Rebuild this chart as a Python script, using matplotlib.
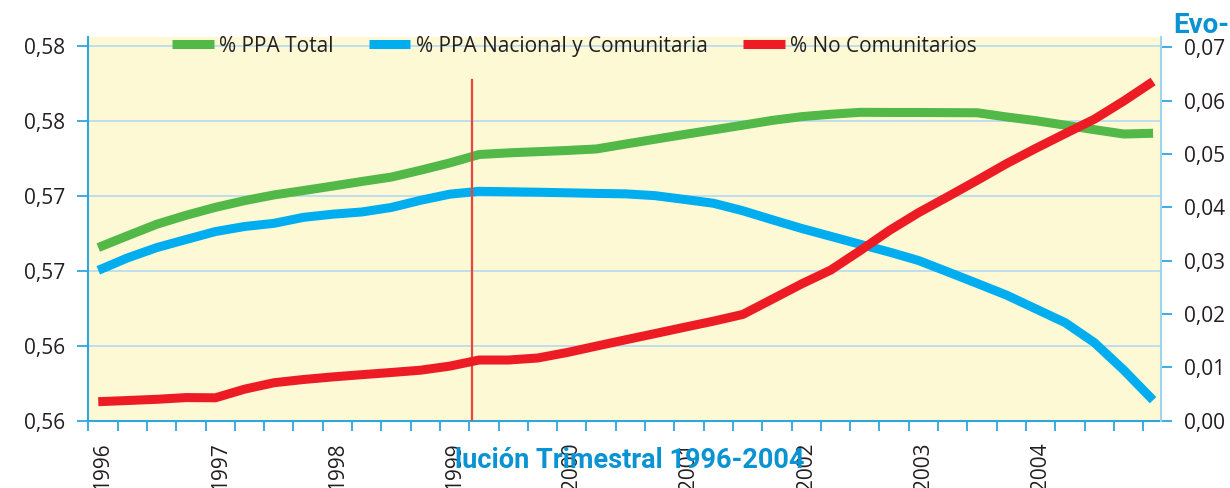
import numpy as np
import matplotlib
matplotlib.use("Agg")
import matplotlib.pyplot as plt

# ---------------- data ----------------
years = ["1996", "1997", "1998", "1999", "2000", "2001", "2002", "2003", "2004"]

ppa_total = [0.56656, 0.56735, 0.56812, 0.56872, 0.56925, 0.56970, 0.57008, 0.57037,
             0.57067, 0.57098, 0.57127, 0.57173, 0.57222, 0.57278, 0.57289, 0.57297,
             0.57305, 0.57315, 0.57348, 0.57380, 0.57412, 0.57443, 0.57474, 0.57506,
             0.57531, 0.57547, 0.57560, 0.57559, 0.57559, 0.57558, 0.57557, 0.57529,
             0.57504, 0.57474, 0.57444, 0.57415, 0.57420]

ppa_nacional = [0.56504, 0.56587, 0.56656, 0.56710, 0.56763, 0.56797, 0.56818, 0.56858,
                0.56879, 0.56894, 0.56924, 0.56972, 0.57013, 0.57032, 0.57029, 0.57026,
                0.57022, 0.57018, 0.57015, 0.57003, 0.56978, 0.56952, 0.56902, 0.56842,
                0.56784, 0.56731, 0.56678, 0.56626, 0.56569, 0.56493, 0.56416, 0.56338,
                0.56246, 0.56154, 0.56020, 0.55837, 0.55636]

no_comunitarios = [0.00353, 0.00375, 0.00398, 0.00430, 0.00426, 0.00589, 0.00709, 0.00769,
                   0.00818, 0.00860, 0.00901, 0.00944, 0.01021, 0.01135, 0.01135, 0.01173,
                   0.01276, 0.01396, 0.01515, 0.01631, 0.01749, 0.01865, 0.01991, 0.02276,
                   0.02562, 0.02824, 0.03187, 0.03566, 0.03902, 0.04202, 0.04508, 0.04821,
                   0.05108, 0.05384, 0.05656, 0.05996, 0.06362]

left_ticks = [0.555, 0.560, 0.565, 0.570, 0.575, 0.580]
left_labels = ["0,56", "0,56", "0,57", "0,57", "0,58", "0,58"]
right_ticks = [0.00, 0.01, 0.02, 0.03, 0.04, 0.05, 0.06, 0.07]
right_labels = ["0,00", "0,01", "0,02", "0,03", "0,04", "0,05", "0,06", "0,07"]

series_labels = ["% PPA Total", "% PPA Nacional y Comunitaria", "% No Comunitarios"]
title_part1 = "Evo-"
title_part2 = "lución Trimestral 1996-2004"

# ---------------- style ----------------
GREEN = "#52B848"
BLUE = "#00AEEF"
RED = "#ED1C24"
AXBLUE = "#2EA6DE"
GRID = "#B4D9F0"
BG = "#FEF9D5"
TXT = "#231F20"
TITLE = "#0A93D2"
FONT = ["Open Sans", "DejaVu Sans"]
TFONT = ["Liberation Sans Narrow", "Roboto", "DejaVu Sans"]

plt.rcParams["font.family"] = FONT

W, H = 1230, 488
fig = plt.figure(figsize=(W / 100, H / 100), dpi=100)
fig.patch.set_facecolor("white")

x0, x1, yb, yt = 88.3, 1161.0, 420.5, 37.0
ax = fig.add_axes([x0 / W, 1 - yb / H, (x1 - x0) / W, (yb - yt) / H])
ax2 = ax.twinx()
ax.set_facecolor(BG)

n = len(ppa_total)
xpos = np.arange(n) + 0.34
ax.set_xlim(0, 36.61)
ax.set_ylim(0.555, 0.580635)
ax2.set_ylim(0.0, 0.07197)

# grid lines at left ticks
for v in left_ticks[1:]:
    ax.axhline(v, color=GRID, lw=1.2, zorder=1)

lw = 6.5
l1, = ax.plot(xpos, ppa_total, color=GREEN, lw=lw, solid_capstyle="butt",
              solid_joinstyle="round", zorder=3)
l2, = ax.plot(xpos, ppa_nacional, color=BLUE, lw=lw, solid_capstyle="butt",
              solid_joinstyle="round", zorder=3)
l3, = ax2.plot(xpos, no_comunitarios, color=RED, lw=lw, solid_capstyle="butt",
               solid_joinstyle="round", zorder=3)

# vertical marker line
ax.axvline(13.08, ymin=0, ymax=0.888, color="#E8453C", lw=1.6, zorder=4)

# axes styling
for a in (ax, ax2):
    a.spines["top"].set_visible(False)
ax.spines["left"].set_color(AXBLUE)
ax.spines["left"].set_linewidth(1.5)
ax.spines["bottom"].set_color(AXBLUE)
ax.spines["bottom"].set_linewidth(1.5)
ax.spines["right"].set_visible(False)
ax2.spines["left"].set_visible(False)
ax2.spines["bottom"].set_visible(False)
ax2.spines["right"].set_color("#9FD4F0")
ax2.spines["right"].set_linewidth(1.5)

ax.set_yticks(left_ticks)
ax.set_yticklabels(left_labels)
ax2.set_yticks(right_ticks)
ax2.set_yticklabels(right_labels)
ax.tick_params(axis="y", direction="out", length=8, width=1.3, color=AXBLUE,
               labelsize=15, labelcolor=TXT, pad=8.5)
ax2.tick_params(axis="y", direction="out", length=8, width=1.3, color=AXBLUE,
                labelsize=15, labelcolor=TXT, pad=8.5)

ax.set_xticks(np.arange(0, 37), minor=True)
ax.set_xticks(np.arange(len(years)) * 4 + 0.5)
ax.set_xticklabels(years, rotation=90)
ax.tick_params(axis="x", which="minor", direction="out", length=7.5, width=1.3,
               color=AXBLUE)
ax.tick_params(axis="x", which="major", length=0, labelsize=15, labelcolor=TXT,
               pad=16)

leg = ax.legend([l1, l2, l3], series_labels, loc="center", ncol=3,
                bbox_to_anchor=(0.4530, 0.9765), frameon=False, fontsize=15,
                handlelength=2.0, handletextpad=0.25, columnspacing=1.7,
                borderpad=0, labelcolor=TXT)
leg.set_zorder(10)

fig.text(1173 / W, 1 - 33 / H, title_part1, family=TFONT, weight="bold",
         fontsize=20, color=TITLE, ha="left", va="baseline", zorder=20)
fig.text(455 / W, 1 - 468 / H, title_part2, family=TFONT, weight="bold",
         fontsize=19.5, color=TITLE, ha="left", va="baseline", zorder=20)

fig.savefig("out.png", dpi=100, facecolor="white")
